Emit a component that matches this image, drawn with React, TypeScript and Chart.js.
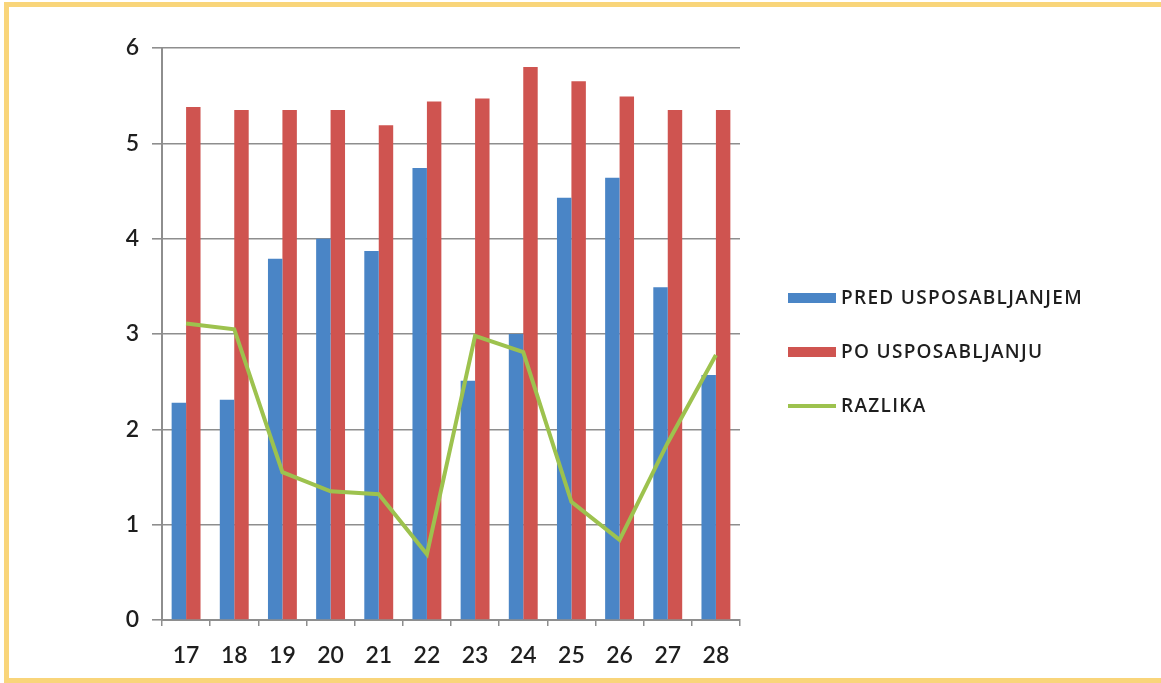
import React, { useEffect, useRef } from "react";
import { Chart, registerables } from "chart.js";

Chart.register(...registerables);

const categories = ["17", "18", "19", "20", "21", "22", "23", "24", "25", "26", "27", "28"];
const predValues = [2.28, 2.31, 3.79, 4.0, 3.87, 4.74, 2.51, 3.0, 4.43, 4.64, 3.49, 2.57];
const poValues = [5.38, 5.35, 5.35, 5.35, 5.19, 5.44, 5.47, 5.8, 5.65, 5.49, 5.35, 5.35];
const razlikaValues = [3.11, 3.05, 1.55, 1.35, 1.32, 0.69, 2.98, 2.81, 1.24, 0.84, 1.86, 2.78];
const seriesLabels = ["PRED USPOSABLJANJEM", "PO USPOSABLJANJU", "RAZLIKA"];
const yTicks = [0, 1, 2, 3, 4, 5, 6];

const BLUE = "#4A85C6";
const RED = "#CF5450";
const GREEN = "#9DC24E";
const GRID = "#8E8E8E";
const FONT = "Lato, 'Open Sans', sans-serif";
const LEGEND_FONT = "'Open Sans', Lato, sans-serif";

const legendPlugin = {
  id: "sideLegend",
  afterDraw(chart: any) {
    const ctx = chart.ctx;
    const area = chart.chartArea;
    const x0 = area.right + 48;
    const yCenter = (area.top + area.bottom) / 2;
    const step = 54;
    const startY = yCenter - 36;
    ctx.save();
    ctx.font = `600 19px ${LEGEND_FONT}`;
    try {
      (ctx as any).letterSpacing = "1.3px";
    } catch (e) {}
    ctx.textBaseline = "middle";
    chart.data.datasets.forEach((ds: any, i: number) => {
      const y = startY + i * step;
      if (ds.type === "line") {
        ctx.strokeStyle = ds.borderColor;
        ctx.lineWidth = 4;
        ctx.beginPath();
        ctx.moveTo(x0, y);
        ctx.lineTo(x0 + 48, y);
        ctx.stroke();
      } else {
        ctx.fillStyle = ds.backgroundColor;
        ctx.fillRect(x0, y - 5, 48, 10);
      }
      ctx.fillStyle = "#1e1e1e";
      ctx.fillText(ds.label, x0 + 53, y + 1);
    });
    ctx.restore();
  },
};

export default function App() {
  const canvasRef = useRef<HTMLCanvasElement | null>(null);

  useEffect(() => {
    const canvas = canvasRef.current;
    if (!canvas) return;
    const chart = new Chart(canvas, {
      type: "bar",
      data: {
        labels: categories,
        datasets: [
          {
            type: "bar",
            label: seriesLabels[0],
            data: predValues,
            backgroundColor: BLUE,
            categoryPercentage: 0.6,
            barPercentage: 1.0,
            order: 1,
          },
          {
            type: "bar",
            label: seriesLabels[1],
            data: poValues,
            backgroundColor: RED,
            categoryPercentage: 0.6,
            barPercentage: 1.0,
            order: 2,
          },
          {
            type: "line",
            label: seriesLabels[2],
            data: razlikaValues,
            borderColor: GREEN,
            backgroundColor: GREEN,
            borderWidth: 4,
            pointRadius: 0,
            tension: 0,
            order: 0,
          } as any,
        ],
      },
      options: {
        animation: false,
        responsive: false,
        maintainAspectRatio: false,
        layout: { padding: { left: 90, top: 48, right: 421, bottom: 10 } },
        plugins: {
          legend: { display: false },
          tooltip: { enabled: false },
          title: { display: false },
        },
        scales: {
          x: {
            offset: true,
            grid: {
              offset: true,
              drawOnChartArea: false,
              drawTicks: true,
              tickLength: 6,
              color: GRID,
              lineWidth: 1.5,
            },
            border: { display: true, color: GRID, width: 2 },
            ticks: {
              font: { family: FONT, size: 23, weight: "600" },
              color: "#1e1e1e",
              padding: 16,
              maxRotation: 0,
            },
            afterFit: (s: any) => {
              s.height = 53;
            },
          },
          y: {
            min: 0,
            max: 6,
            afterBuildTicks: (s: any) => {
              s.ticks = yTicks.map((v) => ({ value: v }));
            },
            grid: {
              color: GRID,
              lineWidth: 1.6,
              drawTicks: true,
              tickLength: 10,
            },
            border: { display: true, color: GRID, width: 2 },
            ticks: {
              font: { family: FONT, size: 23, weight: "600" },
              color: "#1e1e1e",
              padding: 13,
            },
            afterFit: (s: any) => {
              s.width = 72;
            },
          },
        },
      },
      plugins: [legendPlugin],
    });
    return () => chart.destroy();
  }, []);

  return (
    <div
      style={{
        position: "fixed",
        left: 0,
        top: 0,
        width: 1161,
        height: 683,
        overflow: "hidden",
        background: "#fff",
      }}
    >
      <div
        style={{
          position: "absolute",
          left: 4,
          top: 2,
          width: 1170,
          height: 681,
          boxSizing: "border-box",
          borderTop: "5px solid #F9D57A",
          borderLeft: "5px solid #F9D57A",
          borderBottom: "5px solid #F9D57A",
        }}
      />
      <canvas
        ref={canvasRef}
        width={1161}
        height={683}
        style={{ position: "absolute", left: 0, top: 0, width: 1161, height: 683 }}
      />
    </div>
  );
}
